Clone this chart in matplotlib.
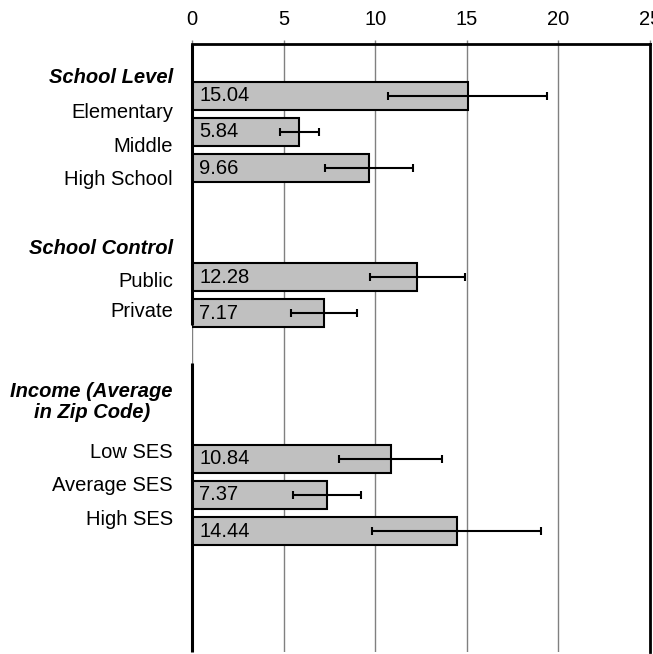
import matplotlib.pyplot as plt

plt.rcParams['font.family'] = ['Liberation Sans', 'DejaVu Sans']
plt.rcParams['font.size'] = 14.5

# bars, top to bottom
categories = ['Elementary', 'Middle', 'High School', 'Public', 'Private',
              'Low SES', 'Average SES', 'High SES']
values = [15.04, 5.84, 9.66, 12.28, 7.17, 10.84, 7.37, 14.44]
errors = [4.33, 1.06, 2.42, 2.60, 1.80, 2.82, 1.87, 4.60]
group_titles = ['School Level', 'School Control', 'Income (Average\nin Zip Code)']
x_ticks = [0, 5, 10, 15, 20, 25]

# layout in row units (one row = one bar slot); titles use last-line baseline
rows = [0, 1, 2, 5, 6, 10, 11, 12]
label_rows = [0.63, 1.55, 2.47, 5.28, 6.09, 9.99, 10.89, 11.83]
title_rows = [-0.34, 4.37, 8.89]
y_top, y_bottom = -1.42, 15.33

W, H = 653, 654
fig = plt.figure(figsize=(W / 100, H / 100), dpi=100)
ax = fig.add_axes([192.3 / W, 2 / H, (650 - 192.3) / W, (652 - 44) / H])

ax.barh(rows, values, height=0.77, color='#c0c0c0', edgecolor='black',
        linewidth=1.5, xerr=errors,
        error_kw=dict(ecolor='black', elinewidth=1.5, capsize=3, capthick=1.5),
        zorder=2)

for r, v in zip(rows, values):
    ax.annotate(f'{v:.2f}', (0, r), xytext=(5, 0), textcoords='offset points',
                va='center', ha='left', zorder=3)

# category and group labels sit left of the axis
lab_tr = ax.get_yaxis_transform()
lab_x = (173 - 192.3) / (650 - 192.3)
for r, name in zip(label_rows, categories):
    ax.text(lab_x, r, name, transform=lab_tr, ha='right', va='baseline',
            clip_on=False)
for r, title in zip(title_rows, group_titles):
    ax.text(lab_x, r, title, transform=lab_tr, ha='right', va='baseline',
            multialignment='center', fontweight='bold', fontstyle='italic',
            linespacing=1.15, clip_on=False)

ax.set_xlim(0, 25)
ax.set_ylim(y_bottom, y_top)
ax.set_xticks(x_ticks)
ax.xaxis.tick_top()
ax.tick_params(axis='x', length=3, width=1, color='#808080', pad=8)
ax.set_yticks([])
ax.xaxis.grid(True, color='#808080', linewidth=1)
ax.set_axisbelow(True)

ax.spines['bottom'].set_visible(False)
ax.spines['left'].set_visible(False)
ax.spines['top'].set_linewidth(2)
ax.spines['right'].set_linewidth(2)

# left axis line, broken between the two lower groups
for y0, y1 in [(y_top, 6.32), (7.38, y_bottom)]:
    ax.plot([0, 0], [y0, y1], color='black', linewidth=2.2,
            solid_capstyle='butt', zorder=4, clip_on=False)

fig.savefig('out.png', dpi=100)
